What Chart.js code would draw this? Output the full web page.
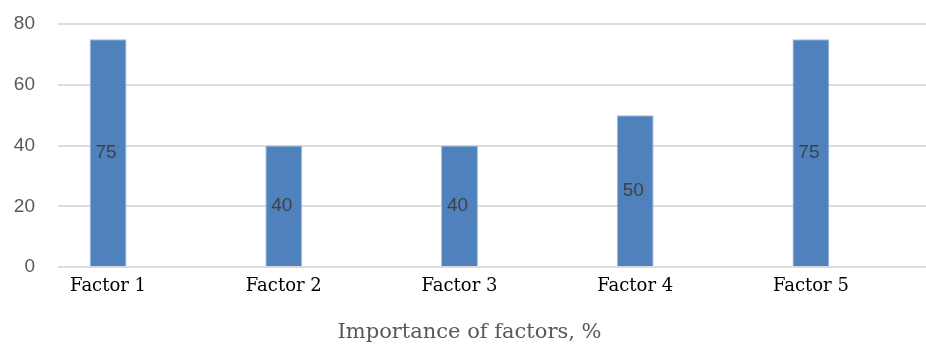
<!DOCTYPE html>
<html>
<head>
<meta charset="utf-8">
<script src="https://cdn.jsdelivr.net/npm/chart.js@4"></script>
<style>
  html, body { margin: 0; padding: 0; background: #ffffff; }
  #wrap { width: 926px; height: 347px; }
</style>
</head>
<body>
<div id="wrap"><canvas id="chart" width="926" height="347"></canvas></div>
<script>
// Chart data
const categories = ['Factor 1', 'Factor 2', 'Factor 3', 'Factor 4', 'Factor 5'];
const importance = [75, 40, 40, 50, 75];
const yTickValues = [0, 20, 40, 60, 80];
const axisTitle = 'Importance of factors, %';

// Bars sit on a numeric x axis so the plot area can start before the first category
const points = categories.map((c, i) => ({ x: i, y: importance[i] }));

// Value labels centred inside each bar
const barValueLabels = {
  id: 'barValueLabels',
  afterDatasetsDraw(chart) {
    const ctx = chart.ctx;
    const meta = chart.getDatasetMeta(0);
    ctx.save();
    ctx.font = '19px "Liberation Sans", Arial, sans-serif';
    ctx.fillStyle = '#404040';
    ctx.textAlign = 'center';
    ctx.textBaseline = 'middle';
    meta.data.forEach((bar, i) => {
      const p = bar.getProps(['x', 'y', 'base'], true);
      ctx.fillText(String(importance[i]), p.x - 2, (p.y + p.base) / 2);
    });
    ctx.restore();
  }
};

new Chart(document.getElementById('chart'), {
  type: 'bar',
  data: {
    datasets: [{
      data: points,
      backgroundColor: '#4f81bd',
      borderColor: '#9dbbe0',
      borderWidth: 1,
      categoryPercentage: 1,
      barPercentage: 0.21
    }]
  },
  options: {
    responsive: false,
    devicePixelRatio: 1,
    animation: false,
    layout: { padding: { left: 13, right: 0, top: 24, bottom: 2 } },
    plugins: {
      legend: { display: false },
      tooltip: { enabled: false },
      title: {
        display: true,
        text: axisTitle,
        position: 'bottom',
        color: '#595959',
        font: { family: '"DejaVu Serif", serif', size: 21, weight: 'normal' },
        padding: { top: 23, bottom: 0 }
      }
    },
    scales: {
      x: {
        type: 'linear',
        offset: false,
        min: -0.285,
        max: 4.655,
        grid: { display: false, offset: false },
        border: { display: false },
        afterBuildTicks(scale) {
          scale.ticks = categories.map((c, i) => ({ value: i }));
        },
        ticks: {
          autoSkip: false,
          maxRotation: 0,
          padding: 0,
          color: '#000000',
          font: { family: '"DejaVu Serif", serif', size: 18 },
          callback: (v) => categories[v]
        }
      },
      y: {
        min: 0,
        max: 80,
        afterBuildTicks(scale) {
          scale.ticks = yTickValues.map(v => ({ value: v }));
        },
        afterFit(scale) { scale.width = 45; },
        grid: {
          color: '#dcdcdc',
          lineWidth: 2,
          drawTicks: true,
          tickLength: 23,
          tickColor: 'rgba(0,0,0,0)'
        },
        border: { display: false },
        ticks: {
          padding: 0,
          color: '#595959',
          font: { family: '"Liberation Sans", Arial, sans-serif', size: 19 }
        }
      }
    }
  },
  plugins: [barValueLabels]
});
</script>
</body>
</html>
